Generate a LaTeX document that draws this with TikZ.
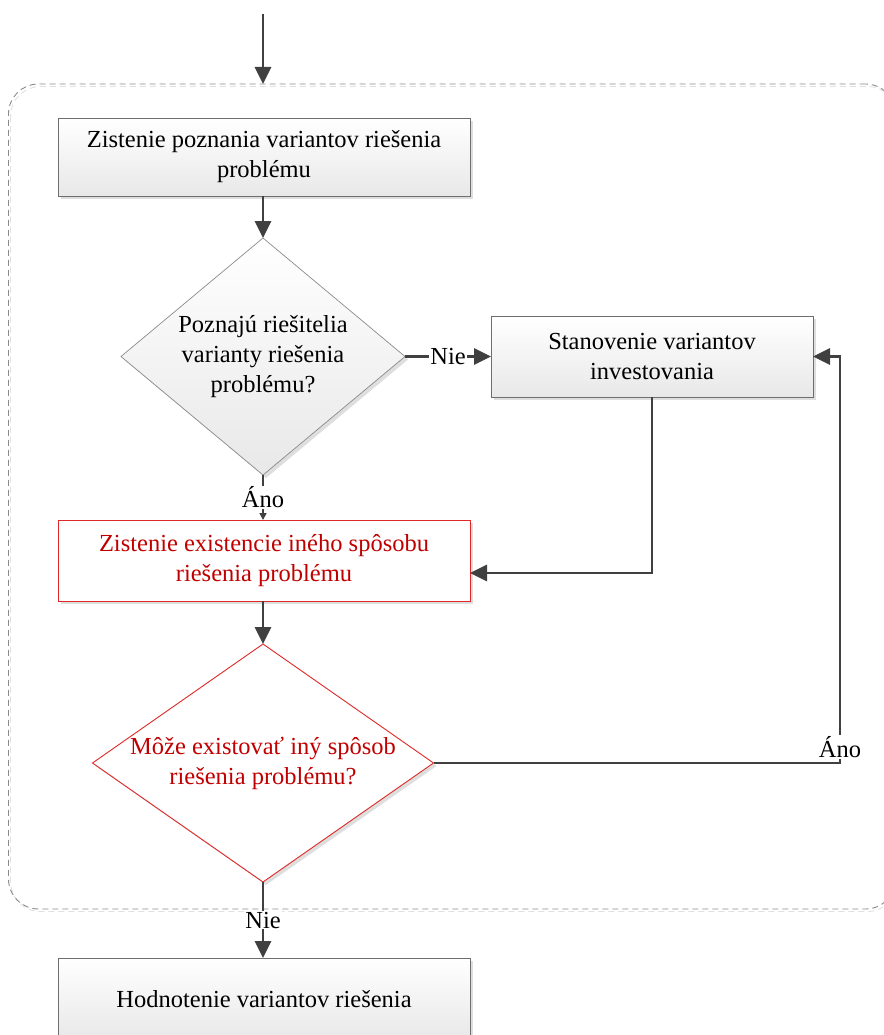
\documentclass[tikz,border=0pt]{standalone}
\usepackage{fontspec}
\setmainfont{Liberation Serif}
\usetikzlibrary{arrows.meta,shapes.geometric,shadows}

\definecolor{linec}{HTML}{404040}
\definecolor{boxline}{HTML}{6E6E6E}
\definecolor{redline}{HTML}{E02828}
\definecolor{redtext}{HTML}{C00000}
\definecolor{framec}{HTML}{8A8A8A}

\begin{document}
\begin{tikzpicture}[x=1pt,y=-1pt,
  txt/.style={font=\fontsize{24.5}{30}\selectfont, align=center},
  lbl/.style={font=\fontsize{24.5}{30}\selectfont, fill=white, inner sep=1pt},
  shd/.style={drop shadow={shadow xshift=3pt,shadow yshift=-3pt,fill=black!13,opacity=1}},
  procbox/.style={txt, draw=boxline, line width=0.8pt, top color=white, bottom color=black!9,
    shd, inner sep=0pt, outer sep=0pt},
  redbox/.style={txt, text=redtext, draw=redline, line width=0.9pt, fill=white,
    shd, inner sep=0pt, outer sep=0pt},
  decgray/.style={diamond, draw=boxline!80, line width=0.7pt, top color=white, bottom color=black!9,
    shd, inner sep=0pt, outer sep=0pt},
  decred/.style={diamond, draw=redline, line width=0.9pt, fill=white,
    shd, inner sep=0pt, outer sep=0pt},
  arr/.style={draw=linec, line width=2.8pt, -{Triangle[length=17pt,width=16pt]}},
  arrsmall/.style={draw=linec, line width=1.6pt, -{Triangle[length=7pt,width=7pt]}},
]
\useasboundingbox (0,0) rectangle (883,1035);

% dashed group frame with its faint offset copy
\draw[black!12, line width=0.9pt, dash pattern=on 6pt off 4pt, rounded corners=30pt]
  (10.5,86.5) rectangle (897.5,911.5);
\node[draw=framec, line width=0.9pt, dash pattern=on 6pt off 4pt, rounded corners=30pt,
  minimum width=887pt, minimum height=825pt, inner sep=0pt, outer sep=0pt]
  (frame) at (452,496.5) {};

% process steps and decisions
\node[procbox, minimum width=412pt, minimum height=78pt] (know) at (264,157)
  {Zistenie poznania variantov riešenia\\problému};
\node[decgray, minimum width=284pt, minimum height=237pt] (dec1) at (263,356.5) {};
\node[txt] (dec1txt) at (dec1.center) {Poznajú riešitelia\\varianty riešenia\\problému?};
\node[procbox, minimum width=322pt, minimum height=81pt] (invest) at (652,356.5)
  {Stanovenie variantov\\investovania};
\node[redbox, minimum width=412pt, minimum height=81pt] (other) at (264,560.5)
  {Zistenie existencie iného spôsobu\\riešenia problému};
\node[decred, minimum width=341pt, minimum height=238pt] (dec2) at (263,763) {};
\node[txt, text=redtext] (dec2txt) at (dec2.center) {Môže existovať iný spôsob\\riešenia problému?};
\node[procbox, minimum width=412pt, minimum height=82pt] (eval) at (264,999)
  {Hodnotenie variantov riešenia};

% connectors
\coordinate (start) at (263,14);
\draw[arr] (start) -- (start |- frame.north);
\draw[arr] (know.south -| dec1.north) -- (dec1.north);
\draw[arr] (dec1.east) -- node[lbl] (nie1) {Nie} (invest.west);
\draw[arrsmall] (dec1.south) -- node[lbl] (ano1) {Áno} (dec1.south |- other.north);
\draw[arr] (invest.south) |- ([yshift=-12.5pt]other.east);
\draw[arr] (dec2.north |- other.south) -- (dec2.north);
\coordinate (turn) at (840,763);
\draw[arr] (dec2.east) -- (turn) |- (invest.east);
\node[lbl] (ano2) at (840,747) {Áno};
\draw[arr] (dec2.south) -- node[lbl] (nie2) {Nie} (dec2.south |- eval.north);
\end{tikzpicture}
\end{document}
